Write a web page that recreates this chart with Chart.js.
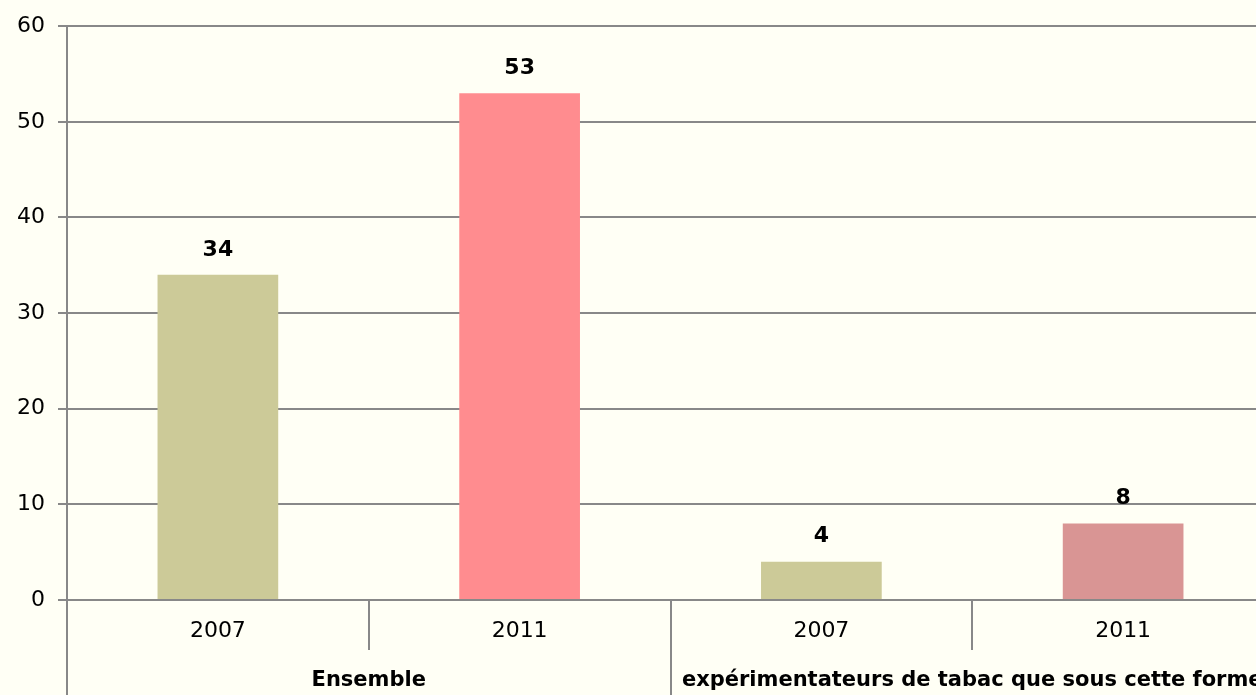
<!DOCTYPE html>
<html>
<head>
<meta charset="utf-8">
<script src="https://cdn.jsdelivr.net/npm/chart.js@4/dist/chart.umd.min.js"></script>
<style>
  html, body { margin: 0; padding: 0; background: #FFFFF5; overflow: hidden; }
  #wrap { position: relative; width: 1290px; height: 695px; }
</style>
</head>
<body>
<div id="wrap"><canvas id="c"></canvas></div>
<script>
const years = ["2007", "2011", "2007", "2011"];
const groups = ["Ensemble", "expérimentateurs de tabac que sous cette forme"];
const values = [34, 53, 4, 8];
const barColors = ["#CCCA98", "#FF8C8F", "#CCCA98", "#D99594"];
const yTicks = [0, 10, 20, 30, 40, 50, 60];

const FONT = "'DejaVu Sans', sans-serif";

const extras = {
  id: 'extras',
  afterDraw(chart) {
    const ctx = chart.ctx;
    const x = chart.scales.x;
    const area = chart.chartArea;
    const n = years.length;
    const step = x.getPixelForValue(1) - x.getPixelForValue(0);
    ctx.save();
    ctx.strokeStyle = '#888888';
    ctx.lineWidth = 2;
    for (let i = 0; i <= n; i++) {
      const bx = Math.round(x.getPixelForValue(i) - step / 2);
      const long = (i % 2 === 0);
      ctx.beginPath();
      ctx.moveTo(bx, long && i === 0 ? area.top : area.bottom);
      ctx.lineTo(bx, long ? chart.height : area.bottom + 50);
      ctx.stroke();
    }
    // group labels
    ctx.fillStyle = '#000';
    ctx.font = 'bold 21px ' + FONT;
    ctx.textAlign = 'center';
    ctx.textBaseline = 'middle';
    groups.forEach((g, gi) => {
      const cx = (x.getPixelForValue(gi * 2) + x.getPixelForValue(gi * 2 + 1)) / 2;
      ctx.fillText(g, cx, 681);
    });
    // value labels
    ctx.font = 'bold 22px ' + FONT;
    const meta = chart.getDatasetMeta(0);
    meta.data.forEach((bar, i) => {
      ctx.fillText(String(values[i]), bar.x, bar.y - 25);
    });
    ctx.restore();
  }
};

new Chart(document.getElementById('c'), {
  type: 'bar',
  data: {
    labels: years,
    datasets: [{
      data: values,
      backgroundColor: barColors,
      borderWidth: 0,
      barPercentage: 0.4,
      categoryPercentage: 1.0
    }]
  },
  options: {
    responsive: true,
    maintainAspectRatio: false,
    animation: false,
    layout: { padding: { top: 23, right: 16, left: 0, bottom: 0 } },
    plugins: { legend: { display: false }, tooltip: { enabled: false } },
    scales: {
      y: {
        min: 0, max: 60,
        afterBuildTicks(scale) { scale.ticks = yTicks.map(v => ({ value: v })); },
        afterFit(scale) { scale.width = 67; },
        ticks: { color: '#000', font: { family: FONT, size: 22 }, padding: 13 },
        grid: { color: '#888888', lineWidth: 2, tickLength: 9 },
        border: { display: false }
      },
      x: {
        afterFit(scale) { scale.height = 95; },
        ticks: { color: '#000', font: { family: FONT, size: 22 }, padding: 18, maxRotation: 0 },
        grid: { display: false, drawTicks: false },
        border: { display: false }
      }
    }
  },
  plugins: [extras]
});
</script>
</body>
</html>
